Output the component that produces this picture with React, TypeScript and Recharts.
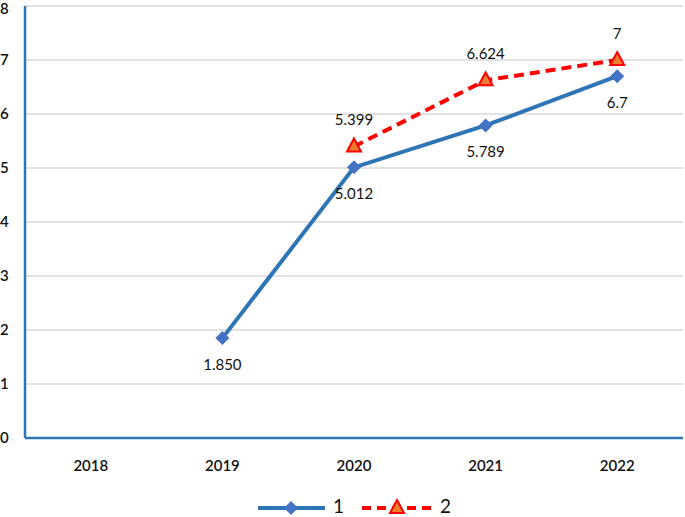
import { CartesianGrid, LabelList, Line, LineChart, XAxis, YAxis } from "recharts"

const years = ["2018", "2019", "2020", "2021", "2022"]
const series1 = [null, 1.85, 5.012, 5.789, 6.7]
const series2 = [null, null, 5.399, 6.624, 7]
const labels1 = [null, "1.850", "5.012", "5.789", "6.7"]
const labels2 = [null, null, "5.399", "6.624", "7"]
const yTicks = [0, 1, 2, 3, 4, 5, 6, 7, 8]

const data = years.map((year, i) => ({
  year,
  s1: series1[i],
  s2: series2[i],
  l1: labels1[i],
  l2: labels2[i],
}))

const BLUE = "#2E75B6"
const RED = "#FF0000"
const FONT = "Lato, 'Open Sans', sans-serif"

function Diamond({ cx, cy }: { cx?: number; cy?: number }) {
  if (cx == null || cy == null) return null
  const r = 7
  return (
    <path
      d={`M${cx},${cy - r}L${cx + r},${cy}L${cx},${cy + r}L${cx - r},${cy}Z`}
      fill="#4472C4"
    />
  )
}

function Triangle({ cx, cy }: { cx?: number; cy?: number }) {
  if (cx == null || cy == null) return null
  return (
    <path
      d={`M${cx},${cy - 8}L${cx + 7},${cy + 5}L${cx - 7},${cy + 5}Z`}
      fill="#ED7D31"
      stroke={RED}
      strokeWidth={2}
    />
  )
}

// tick labels sit flush against the left edge, like the source
function YTick({ y, payload }: any) {
  return (
    <text x={0} y={y} dy={5} textAnchor="start" fontSize={15} fontWeight={600} fill="#111" fontFamily={FONT}>
      {payload.value}
    </text>
  )
}

function Legend() {
  return (
    <svg width={685} height={37} style={{ position: "absolute", left: 0, top: 480 }}>
      <line x1={258} y1={28} x2={325} y2={28} stroke={BLUE} strokeWidth={4} />
      <Diamond cx={291} cy={28} />
      <text x={333} y={33} fontSize={19} fill="#111" fontFamily={FONT}>1</text>
      <line x1={362} y1={28} x2={432} y2={28} stroke={RED} strokeWidth={4} strokeDasharray="9 6" />
      <Triangle cx={397} cy={28} />
      <text x={440} y={33} fontSize={19} fill="#111" fontFamily={FONT}>2</text>
    </svg>
  )
}

export default function App() {
  return (
    <div style={{ position: "absolute", left: 0, top: 0, width: 685, height: 517, background: "#fff" }}>
      <LineChart
        width={685}
        height={517}
        data={data}
        margin={{ top: 6, right: 2, left: 0, bottom: 34 }}
      >
        <CartesianGrid vertical={false} stroke="#d9d9d9" strokeWidth={1.5} />
        <XAxis
          dataKey="year"
          scale="band"
          axisLine={{ stroke: BLUE, strokeWidth: 2.5 }}
          tickLine={false}
          tick={{ fontSize: 15, fill: "#111", fontWeight: 600, fontFamily: FONT }}
          tickMargin={16}
          height={45}
        />
        <YAxis
          domain={[0, 8]}
          ticks={yTicks}
          width={25}
          axisLine={{ stroke: BLUE, strokeWidth: 2.5 }}
          tickLine={false}
          tick={<YTick />}
        />
        <Line
          dataKey="s1"
          stroke={BLUE}
          strokeWidth={4}
          dot={<Diamond />}
          activeDot={false}
          isAnimationActive={false}
        >
          <LabelList dataKey="l1" position="bottom" offset={21} fontSize={15} fill="#111" fontFamily={FONT} />
        </Line>
        <Line
          dataKey="s2"
          stroke={RED}
          strokeWidth={4}
          strokeDasharray="10 6"
          dot={<Triangle />}
          activeDot={false}
          isAnimationActive={false}
        >
          <LabelList dataKey="l2" position="top" offset={21} fontSize={15} fill="#111" fontFamily={FONT} />
        </Line>
      </LineChart>
      <Legend />
    </div>
  )
}
